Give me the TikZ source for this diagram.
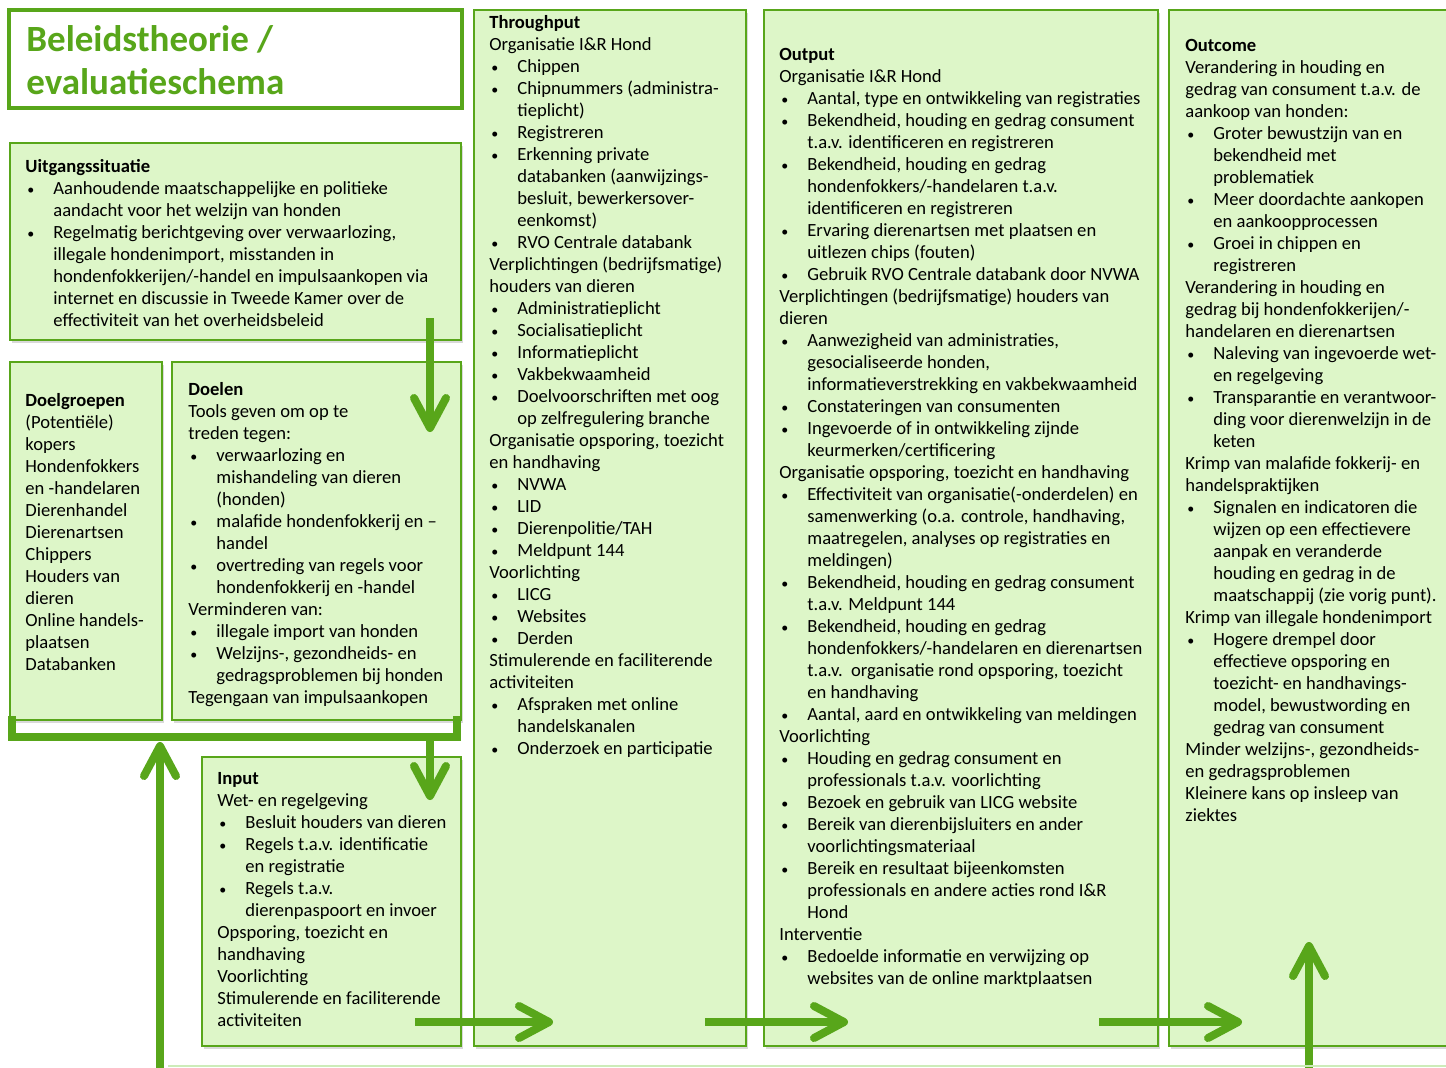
\documentclass[tikz,border=0pt]{standalone}
\usepackage{fontspec}
\setmainfont{Carlito}
\usetikzlibrary{positioning, arrows.meta, shadows}

\definecolor{leaf}{RGB}{88,166,26}
\definecolor{boxfill}{RGB}{221,246,200}
\definecolor{paleline}{RGB}{205,236,185}

\newcommand{\bpt}{\makebox[14pt][l]{\hspace{1pt}{\fontsize{7}{7}\selectfont\textbullet}}}
\newcommand{\bcont}{\hspace*{14pt}}

\tikzset{
  box/.style={rectangle, draw=leaf, fill=boxfill, line width=1pt, inner sep=0pt, outer sep=0pt,
    drop shadow={shadow xshift=1.2pt, shadow yshift=-1.5pt, opacity=0.3}},
  titlebox/.style={rectangle, draw=leaf, fill=white, line width=2pt, inner sep=0pt, outer sep=0pt},
  txt/.style={align=left, inner sep=0pt, font=\fontsize{9.3}{11}\selectfont},
  flow/.style={draw=leaf, line width=4pt,
    -{Straight Barb[length=15pt, width=16pt, line cap=round, line join=round]}},
  bracket/.style={draw=leaf, line width=4pt}
}

\begin{document}
\begin{tikzpicture}
\useasboundingbox (0,0) rectangle (723pt,-533.5pt);

% Title
\node[titlebox, anchor=north west, minimum width=226.5pt, minimum height=49pt] (title) at (4.5pt,-5pt) {};
\node[txt, font=\fontsize{18.5}{21.5}\selectfont\bfseries, text=leaf, below right=7.5pt and 8.5pt of title.north west] (titletxt) {Beleidstheorie /\\evaluatieschema};

% Uitgangssituatie
\node[box, below right=17.5pt and 0.5pt of title.south west, minimum width=225.5pt, minimum height=98.5pt] (uitgang) {};
\node[txt, below right=8pt and 7.5pt of uitgang.north west] (uitgangtxt) {\textbf{Uitgangssituatie}\\
\bpt Aanhoudende maatschappelijke en politieke\\
\bcont aandacht voor het welzijn van honden\\
\bpt Regelmatig berichtgeving over verwaarlozing,\\
\bcont illegale hondenimport, misstanden in\\
\bcont hondenfokkerijen/-handel en impulsaankopen via\\
\bcont internet en discussie in Tweede Kamer over de\\
\bcont effectiviteit van het overheidsbeleid};

% Doelgroepen and doelen
\node[box, below right=11pt and 0pt of uitgang.south west, minimum width=76pt, minimum height=179pt] (doelgroepen) {};
\node[txt, below right=15.5pt and 7.5pt of doelgroepen.north west] (doelgroepentxt) {\textbf{Doelgroepen}\\
(Potentiële)\\
kopers\\
Hondenfokkers\\
en -handelaren\\
Dierenhandel\\
Dierenartsen\\
Chippers\\
Houders van\\
dieren\\
Online handels-\\
plaatsen\\
Databanken};

\node[box, below right=0pt and 5pt of doelgroepen.north east, minimum width=144.5pt, minimum height=179pt] (doelen) {};
\node[txt, below right=10pt and 8pt of doelen.north west] (doelentxt) {\textbf{Doelen}\\
Tools geven om op te\\
treden tegen:\\
\bpt verwaarlozing en\\
\bcont mishandeling van dieren\\
\bcont (honden)\\
\bpt malafide hondenfokkerij en –\\
\bcont handel\\
\bpt overtreding van regels voor\\
\bcont hondenfokkerij en -handel\\
Verminderen van:\\
\bpt illegale import van honden\\
\bpt Welzijns-, gezondheids- en\\
\bcont gedragsproblemen bij honden\\
Tegengaan van impulsaankopen};

% Input
\node[box, below left=18.5pt and 0pt of doelen.south east, minimum width=129.5pt, minimum height=144.5pt] (input) {};
\node[txt, below right=7.5pt and 7.5pt of input.north west] (inputtxt) {\textbf{Input}\\
Wet- en regelgeving\\
\bpt Besluit houders van dieren\\
\bpt Regels t.a.v. identificatie\\
\bcont en registratie\\
\bpt Regels t.a.v.\\
\bcont dierenpaspoort en invoer\\
Opsporing, toezicht en\\
handhaving\\
Voorlichting\\
Stimulerende en faciliterende\\
activiteiten};

% Throughput
\node[box, below right=0pt and 6pt of title.north east, minimum width=136pt, minimum height=518pt] (throughput) {};
\node[txt, below right=2.5pt and 7.5pt of throughput.north west] (throughputtxt) {\textbf{Throughput}\\
Organisatie I\&R Hond\\
\bpt Chippen\\
\bpt Chipnummers (administra-\\
\bcont tieplicht)\\
\bpt Registreren\\
\bpt Erkenning private\\
\bcont databanken (aanwijzings-\\
\bcont besluit, bewerkersover-\\
\bcont eenkomst)\\
\bpt RVO Centrale databank\\
Verplichtingen (bedrijfsmatige)\\
houders van dieren\\
\bpt Administratieplicht\\
\bpt Socialisatieplicht\\
\bpt Informatieplicht\\
\bpt Vakbekwaamheid\\
\bpt Doelvoorschriften met oog\\
\bcont op zelfregulering branche\\
Organisatie opsporing, toezicht\\
en handhaving\\
\bpt NVWA\\
\bpt LID\\
\bpt Dierenpolitie/TAH\\
\bpt Meldpunt 144\\
Voorlichting\\
\bpt LICG\\
\bpt Websites\\
\bpt Derden\\
Stimulerende en faciliterende\\
activiteiten\\
\bpt Afspraken met online\\
\bcont handelskanalen\\
\bpt Onderzoek en participatie};

% Output
\node[box, below right=0pt and 9pt of throughput.north east, minimum width=197pt, minimum height=518pt] (output) {};
\node[txt, below right=19pt and 7.5pt of output.north west] (outputtxt) {\textbf{Output}\\
Organisatie I\&R Hond\\
\bpt Aantal, type en ontwikkeling van registraties\\
\bpt Bekendheid, houding en gedrag consument\\
\bcont t.a.v. identificeren en registreren\\
\bpt Bekendheid, houding en gedrag\\
\bcont hondenfokkers/-handelaren t.a.v.\\
\bcont identificeren en registreren\\
\bpt Ervaring dierenartsen met plaatsen en\\
\bcont uitlezen chips (fouten)\\
\bpt Gebruik RVO Centrale databank door NVWA\\
Verplichtingen (bedrijfsmatige) houders van\\
dieren\\
\bpt Aanwezigheid van administraties,\\
\bcont gesocialiseerde honden,\\
\bcont informatieverstrekking en vakbekwaamheid\\
\bpt Constateringen van consumenten\\
\bpt Ingevoerde of in ontwikkeling zijnde\\
\bcont keurmerken/certificering\\
Organisatie opsporing, toezicht en handhaving\\
\bpt Effectiviteit van organisatie(-onderdelen) en\\
\bcont samenwerking (o.a. controle, handhaving,\\
\bcont maatregelen, analyses op registraties en\\
\bcont meldingen)\\
\bpt Bekendheid, houding en gedrag consument\\
\bcont t.a.v. Meldpunt 144\\
\bpt Bekendheid, houding en gedrag\\
\bcont hondenfokkers/-handelaren en dierenartsen\\
\bcont t.a.v.\ \ organisatie rond opsporing, toezicht\\
\bcont en handhaving\\
\bpt Aantal, aard en ontwikkeling van meldingen\\
Voorlichting\\
\bpt Houding en gedrag consument en\\
\bcont professionals t.a.v. voorlichting\\
\bpt Bezoek en gebruik van LICG website\\
\bpt Bereik van dierenbijsluiters en ander\\
\bcont voorlichtingsmateriaal\\
\bpt Bereik en resultaat bijeenkomsten\\
\bcont professionals en andere acties rond I\&R\\
\bcont Hond\\
Interventie\\
\bpt Bedoelde informatie en verwijzing op\\
\bcont websites van de online marktplaatsen};

% Outcome
\node[box, below right=0pt and 5.5pt of output.north east, minimum width=145.5pt, minimum height=518pt] (outcome) {};
\node[txt, below right=14.5pt and 8pt of outcome.north west] (outcometxt) {\textbf{Outcome}\\
Verandering in houding en\\
gedrag van consument t.a.v. de\\
aankoop van honden:\\
\bpt Groter bewustzijn van en\\
\bcont bekendheid met\\
\bcont problematiek\\
\bpt Meer doordachte aankopen\\
\bcont en aankoopprocessen\\
\bpt Groei in chippen en\\
\bcont registreren\\
Verandering in houding en\\
gedrag bij hondenfokkerijen/-\\
handelaren en dierenartsen\\
\bpt Naleving van ingevoerde wet-\\
\bcont en regelgeving\\
\bpt Transparantie en verantwoor-\\
\bcont ding voor dierenwelzijn in de\\
\bcont keten\\
Krimp van malafide fokkerij- en\\
handelspraktijken\\
\bpt Signalen en indicatoren die\\
\bcont wijzen op een effectievere\\
\bcont aanpak en veranderde\\
\bcont houding en gedrag in de\\
\bcont maatschappij (zie vorig punt).\\
Krimp van illegale hondenimport\\
\bpt Hogere drempel door\\
\bcont effectieve opsporing en\\
\bcont toezicht- en handhavings-\\
\bcont model, bewustwording en\\
\bcont gedrag van consument\\
Minder welzijns-, gezondheids-\\
en gedragsproblemen\\
Kleinere kans op insleep van\\
ziektes};

% Bracket round doelgroepen and doelen
\coordinate (b1) at ([shift={(1pt,2pt)}]doelgroepen.south west);
\coordinate (b2) at ([shift={(-2pt,2pt)}]doelen.south east);
\draw[bracket] (b1) -- ++(0,-10.5pt) -| (b2);

% Arrows
\coordinate (u1) at ([shift={(-15.5pt,11pt)}]uitgang.south east);
\coordinate (u2) at ([shift={(129pt,-35pt)}]doelen.north west);
\draw[flow] (u1) -- (u2);

\coordinate (i1) at ([shift={(-15.5pt,-8.5pt)}]doelen.south east);
\coordinate (i2) at ([shift={(-15.5pt,-21.5pt)}]input.north east);
\draw[flow] (i1) -- (i2);

\coordinate (f1) at ([shift={(75pt,-175pt)}]doelgroepen.south west);
\coordinate (f2) at ([shift={(75pt,-11pt)}]doelgroepen.south west);
\draw[flow] (f1) -- (f2);

\coordinate (t1) at ([shift={(-23pt,12pt)}]input.south east);
\coordinate (t2) at ([shift={(39.5pt,12pt)}]throughput.south west);
\draw[flow] (t1) -- (t2);

\coordinate (o1) at ([shift={(-20.5pt,12pt)}]throughput.south east);
\coordinate (o2) at ([shift={(42pt,12pt)}]output.south west);
\draw[flow] (o1) -- (o2);

\coordinate (c1) at ([shift={(-29.5pt,12pt)}]output.south east);
\coordinate (c2) at ([shift={(36.5pt,12pt)}]outcome.south west);
\draw[flow] (c1) -- (c2);

\coordinate (e1) at ([shift={(70pt,-12pt)}]outcome.south west);
\coordinate (e2) at ([shift={(70pt,52pt)}]outcome.south west);
\draw[flow] (e1) -- (e2);

% Bottom edge
\draw[paleline, line width=1.2pt] (84pt,-533pt) -- (730pt,-533pt);
\end{tikzpicture}
\end{document}
